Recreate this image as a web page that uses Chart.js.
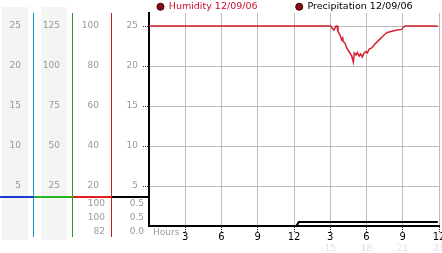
<!DOCTYPE html>
<html lang="en">
<head>
<meta charset="UTF-8">
<title>Humidity / Precipitation 12/09/06</title>
<script src="https://cdn.jsdelivr.net/npm/chart.js"></script>
<style>
  html, body { margin: 0; padding: 0; background: #fff; }
  canvas { display: block; }
</style>
</head>
<body>
<canvas id="chart" width="442" height="253"></canvas>
<script>
// scale columns on the left, outermost first
const col1Ticks = [5, 10, 15, 20, 25];
const col2Ticks = [25, 50, 75, 100, 125];
const humidityTicks = [20, 40, 60, 80, 100];
const precipTicks = [5, 10, 15, 20, 25];

// hours along the bottom
const hourTicks = [3, 6, 9, 12, 15, 18, 21, 24];
const hourLabels = ['3', '6', '9', '12', '3', '6', '9', '12'];
const hour24Labels = ['', '', '', '', '15', '18', '21', '24'];

// humidity (%) by hour
const humidityHours = [0, 15.04, 15.15, 15.31, 15.48, 15.56, 15.64, 15.81, 15.95, 16.03,
  16.08, 16.22, 16.36, 16.47, 16.63, 16.78, 16.91, 16.99, 17.13, 17.24,
  17.40, 17.52, 17.65, 17.79, 17.96, 18.07, 18.23, 18.43, 18.70, 18.98,
  19.26, 19.45, 19.72, 20.17, 20.55, 20.91, 21.10, 21.19, 23.9];
const humidityValues = [100, 100, 99, 98, 100, 100, 97.2, 95.5, 93, 94,
  92.2, 91.5, 89, 88, 86.5, 85, 82, 86.5, 85.5, 86.7,
  85, 86, 84.5, 86.5, 87.2, 86.5, 88.5, 89, 91, 92.7,
  94.3, 95.5, 96.8, 97.5, 98, 98.3, 99.7, 100, 100];

// precipitation by hour
const precipHours = [0, 12.2, 12.4, 23.9];
const precipValues = [0, 0, 0.5, 0.5];

// summary rows under the scales (current, max, min)
const humiditySummary = ['100', '100', '82'];
const precipSummary = ['0.5', '0.5', '0.0'];

const legendLabels = ['Humidity 12/09/06', 'Precipitation 12/09/06'];
const legendTextColors = ['#c8102e', '#000'];

const FONT = 'DejaVu Sans';

function toPoints(xs, ys) {
  return xs.map((x, i) => ({ x: x, y: ys[i] }));
}

function useTicks(values) {
  return scale => { scale.ticks = values.map(v => ({ value: v })); };
}

function fixWidth(w) {
  return scale => { scale.width = w; scale.paddingTop = 0; scale.paddingBottom = 0; };
}

function fixHeight(h) {
  return scale => { scale.height = h; scale.paddingLeft = 0; scale.paddingRight = 0; };
}

function sideAxis(values, max, weight, width) {
  return {
    type: 'linear',
    position: 'left',
    weight: weight,
    min: 0,
    max: max,
    afterBuildTicks: useTicks(values),
    afterFit: fixWidth(width),
    grid: { display: false, drawTicks: false },
    border: { display: false },
    ticks: { color: '#999', padding: 13, font: { family: FONT, size: 9 } }
  };
}

// gray column backgrounds, coloured rules and the summary numbers
const panelDecor = {
  id: 'panelDecor',
  beforeDraw(chart) {
    const { ctx, chartArea, scales } = chart;
    ctx.save();
    ctx.fillStyle = '#f4f4f4';
    [scales.c1, scales.c2].forEach(s => {
      ctx.fillRect(s.right - 32, chartArea.top - 6, 26, chartArea.bottom - chartArea.top + 20);
    });
    ctx.restore();
  },
  afterDraw(chart) {
    const { ctx, chartArea, scales } = chart;
    const bottom = chartArea.bottom;
    ctx.save();

    // vertical rules between the columns
    [[scales.c1, '#1598cc'], [scales.c2, '#229a22'], [scales.c3, '#c41c1c']].forEach(([s, c]) => {
      ctx.strokeStyle = c;
      ctx.lineWidth = 1;
      ctx.beginPath();
      ctx.moveTo(s.right - 0.5, chartArea.top);
      ctx.lineTo(s.right - 0.5, bottom + 11);
      ctx.stroke();
    });

    // coloured separator above the summary rows
    [[scales.c1, '#1a3ad8'], [scales.c2, '#22b822'], [scales.c3, '#e02020'], [scales.c4, '#000']].forEach(([s, c]) => {
      ctx.fillStyle = c;
      ctx.fillRect(s.left, bottom - 30, s.right - s.left, 2);
    });

    ctx.font = '9px "' + FONT + '"';
    ctx.fillStyle = '#999';
    ctx.textAlign = 'right';
    ctx.textBaseline = 'middle';
    const rows = [bottom - 22, bottom - 8, bottom + 6];
    rows.forEach((y, i) => {
      ctx.fillText(humiditySummary[i], scales.c3.right - 7, y);
      ctx.fillText(precipSummary[i], scales.c4.right - 5, y);
    });

    ctx.textAlign = 'left';
    ctx.fillText('Hours', chartArea.left + 4, bottom + 6.5);
    ctx.restore();
  }
};

new Chart(document.getElementById('chart'), {
  type: 'line',
  data: {
    datasets: [{
      label: legendLabels[0],
      data: toPoints(humidityHours, humidityValues),
      yAxisID: 'c3',
      borderColor: '#d42030',
      backgroundColor: '#8a0a14',
      borderWidth: 1.5,
      pointRadius: 0,
      tension: 0,
      clip: 2
    }, {
      label: legendLabels[1],
      data: toPoints(precipHours, precipValues),
      yAxisID: 'c4',
      borderColor: '#000',
      backgroundColor: '#8a0a14',
      borderWidth: 2,
      pointRadius: 0,
      tension: 0,
      clip: 2
    }]
  },
  options: {
    responsive: false,
    animation: false,
    layout: { autoPadding: false, padding: { top: -6, right: 3, bottom: 0, left: 0 } },
    plugins: {
      tooltip: { enabled: false },
      legend: {
        position: 'top',
        align: 'start',
        fullSize: false,
        maxHeight: 19,
        labels: {
          usePointStyle: true,
          boxWidth: 7,
          boxHeight: 5,
          padding: 8,
          font: { family: FONT, size: 9.5 },
          generateLabels(chart) {
            const items = Chart.defaults.plugins.legend.labels.generateLabels(chart);
            items.forEach((item, i) => {
              item.fontColor = legendTextColors[i];
              item.fillStyle = '#8a0a14';
              item.strokeStyle = '#3a0000';
              item.lineWidth = 1;
            });
            // keep the second entry over on the right
            items[0].text = items[0].text + '          ';
            return items;
          }
        }
      }
    },
    scales: {
      x: {
        type: 'linear',
        position: 'bottom',
        weight: 0,
        min: 0,
        max: 24,
        afterBuildTicks: useTicks(hourTicks),
        afterFit: fixHeight(16),
        grid: { color: '#bbb', tickLength: 6, tickColor: '#333', tickBorderDash: [1, 1] },
        border: { color: '#000', width: 2 },
        ticks: {
          color: '#000',
          padding: -1,
          maxRotation: 0,
          autoSkip: false,
          font: { family: FONT, size: 10 },
          callback: v => hourLabels[hourTicks.indexOf(v)]
        }
      },
      x2: {
        type: 'linear',
        position: 'bottom',
        weight: 1,
        min: 0,
        max: 24,
        afterBuildTicks: useTicks(hourTicks),
        afterFit: fixHeight(11),
        grid: { display: false, drawTicks: false },
        border: { display: false },
        ticks: {
          color: '#e2e2e2',
          padding: 1,
          maxRotation: 0,
          autoSkip: false,
          font: { family: FONT, size: 9 },
          callback: v => hour24Labels[hourTicks.indexOf(v)]
        }
      },
      c4: {
        type: 'linear',
        position: 'left',
        weight: 0,
        min: 0,
        max: 26.625,
        afterBuildTicks: useTicks(precipTicks),
        afterFit: fixWidth(37),
        grid: { color: '#bbb', tickLength: 6, tickColor: '#333', tickBorderDash: [1, 1] },
        border: { color: '#000', width: 2 },
        ticks: { color: '#999', padding: 5, font: { family: FONT, size: 9 } }
      },
      c3: sideAxis(humidityTicks, 106.5, 1, 39),
      c2: sideAxis(col2Ticks, 133.125, 2, 39),
      c1: sideAxis(col1Ticks, 26.625, 3, 34)
    }
  },
  plugins: [panelDecor]
});
</script>
</body>
</html>
